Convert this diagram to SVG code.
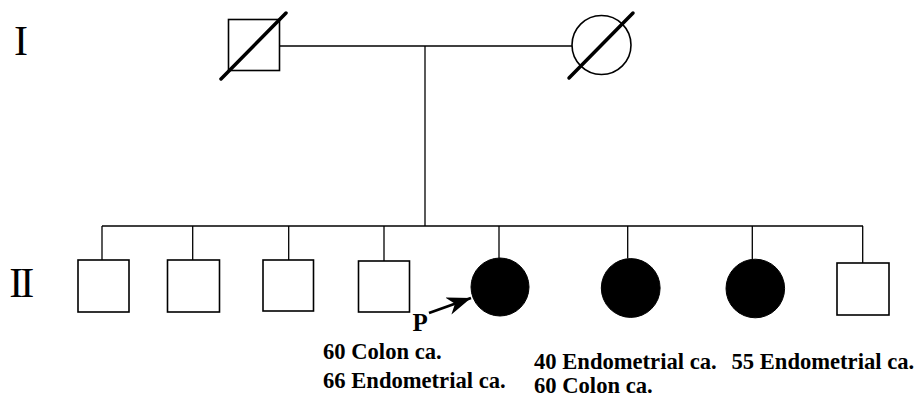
<svg xmlns="http://www.w3.org/2000/svg" width="915" height="398" viewBox="0 0 915 398">
<defs>
<style>
.ln{stroke:#000;stroke-width:1.3;fill:none}
.m{stroke:#000;stroke-width:1.6;fill:#fff}
.a{fill:#000;stroke:#000;stroke-width:1}
.d{stroke:#000;stroke-width:3.5;stroke-linecap:round}
.gen{font-family:"Liberation Serif","Times New Roman",serif;font-size:42px;fill:#000}
.lab{font-family:"Liberation Serif","Times New Roman",serif;font-size:22.6px;font-weight:bold;fill:#000}
</style>
<marker id="arr" markerWidth="26" markerHeight="20" refX="24" refY="9" orient="auto" markerUnits="userSpaceOnUse">
<path d="M0,0 L24,9 L0,18 L7,9 z" fill="#000"/>
</marker>
</defs>
<rect width="915" height="398" fill="#fff"/>
<text class="gen" x="14" y="55">I</text>
<text class="gen" x="9.3" y="297" letter-spacing="-3">II</text>
<g id="connectors">
<line class="ln" x1="279" y1="46" x2="572" y2="46"/>
<line class="ln" x1="425" y1="46" x2="425" y2="226"/>
<line class="ln" x1="102" y1="226" x2="863" y2="226"/>
<line class="ln" x1="102" y1="226" x2="102" y2="260"/>
<line class="ln" x1="192.7" y1="226" x2="192.7" y2="260"/>
<line class="ln" x1="288.7" y1="226" x2="288.7" y2="260"/>
<line class="ln" x1="384" y1="226" x2="384" y2="261"/>
<line class="ln" x1="499" y1="226" x2="499" y2="258"/>
<line class="ln" x1="627.7" y1="226" x2="627.7" y2="258.5"/>
<line class="ln" x1="752.3" y1="226" x2="752.3" y2="259"/>
<line class="ln" x1="862.7" y1="226" x2="862.7" y2="263"/>
<line stroke="#000" stroke-width="2.8" x1="429" y1="313" x2="471" y2="298" marker-end="url(#arr)"/>
</g>
<g id="I-1">
<rect class="m" x="228.5" y="19.5" width="51" height="51"/>
<line class="d" x1="221" y1="79" x2="286" y2="13"/>
</g>
<g id="I-2">
<circle class="m" cx="601.5" cy="45" r="29.5"/>
<line class="d" x1="569" y1="78" x2="633" y2="13"/>
</g>
<g id="II-1"><rect class="m" x="78" y="260" width="51" height="52"/></g>
<g id="II-2"><rect class="m" x="167.5" y="260" width="52" height="52"/></g>
<g id="II-3"><rect class="m" x="263" y="260" width="50.5" height="51"/></g>
<g id="II-4"><rect class="m" x="358.5" y="261" width="51" height="51"/></g>
<g id="II-5">
<circle class="a" cx="500" cy="287" r="29"/>
<text class="lab" x="412.5" y="330.5" style="font-size:25px">P</text>
<text class="lab" x="323" y="359">60 Colon ca.</text>
<text class="lab" x="323" y="388">66 Endometrial ca.</text>
</g>
<g id="II-6">
<circle class="a" cx="630.7" cy="288" r="29.4"/>
<text class="lab" x="534" y="369">40 Endometrial ca.</text>
<text class="lab" x="534" y="392.5">60 Colon ca.</text>
</g>
<g id="II-7">
<circle class="a" cx="755.3" cy="288.5" r="29.3"/>
<text class="lab" x="731.5" y="369">55 Endometrial ca.</text>
</g>
<g id="II-8"><rect class="m" x="837" y="263" width="52" height="52"/></g>
</svg>
